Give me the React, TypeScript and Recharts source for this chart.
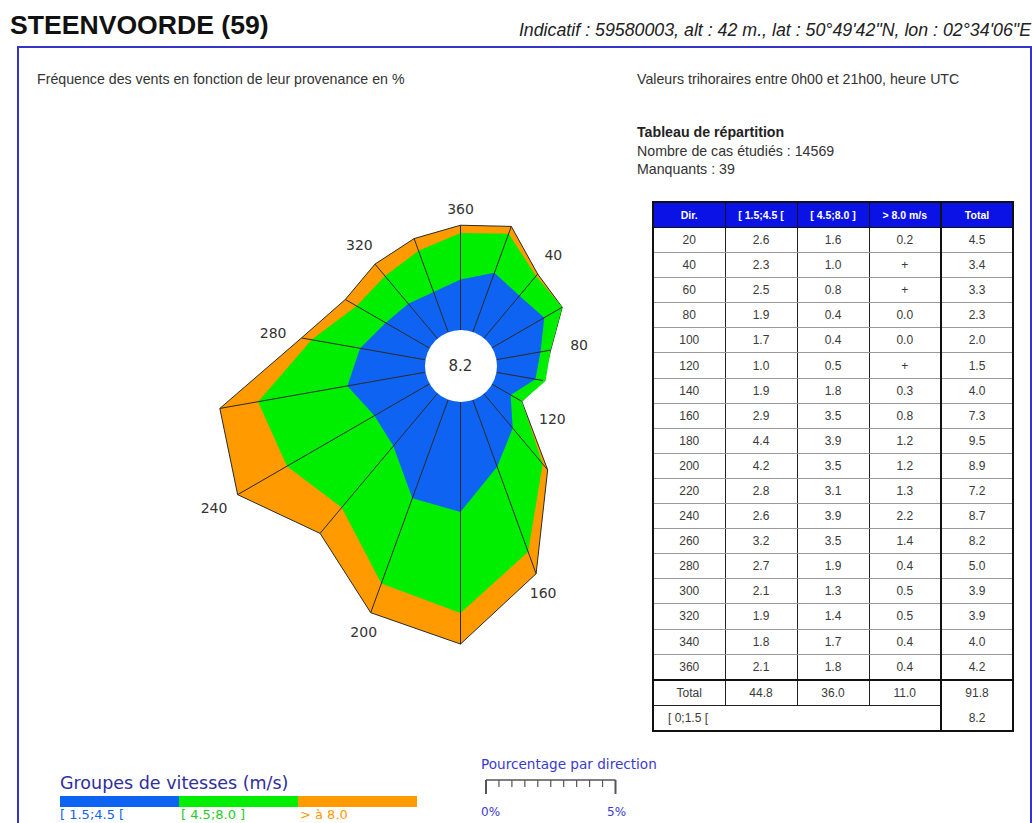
import React from 'react';
import { RadarChart, Radar, PolarAngleAxis, PolarRadiusAxis } from 'recharts';

const directions = [20, 40, 60, 80, 100, 120, 140, 160, 180, 200, 220, 240, 260, 280, 300, 320, 340, 360];
// [ 1.5;4.5 [ m/s
const speedLow = [2.6, 2.3, 2.5, 1.9, 1.7, 1.0, 1.9, 2.9, 4.4, 4.2, 2.8, 2.6, 3.2, 2.7, 2.1, 1.9, 1.8, 2.1];
// [ 4.5;8.0 ] m/s
const speedMid = [1.6, 1.0, 0.8, 0.4, 0.4, 0.5, 1.8, 3.5, 3.9, 3.5, 3.1, 3.9, 3.5, 1.9, 1.3, 1.4, 1.7, 1.8];
// > 8.0 m/s, null = "+" (trace)
const speedHigh: (number | null)[] = [0.2, null, null, 0.0, 0.0, null, 0.3, 0.8, 1.2, 1.2, 1.3, 2.2, 1.4, 0.4, 0.5, 0.5, 0.4, 0.4];
const totals = [4.5, 3.4, 3.3, 2.3, 2.0, 1.5, 4.0, 7.3, 9.5, 8.9, 7.2, 8.7, 8.2, 5.0, 3.9, 3.9, 4.0, 4.2];
const columnTotals = ['44.8', '36.0', '11.0', '91.8'];
const calm = '8.2';
const headers = ['Dir.', '[ 1.5;4.5 [', '[ 4.5;8.0 ]', '> 8.0 m/s', 'Total'];

const BLUE = '#0f63f2';
const GREEN = '#00ee00';
const ORANGE = '#ff9a00';

const CHART_LEFT = 160;
const CHART_TOP = 60;
const CX = 300.5;
const CY = 306;
const INNER = 32;
const OUTER = 291; // 10 % at 25.9 px per %
const HOLE = 36;

const rows = directions.map((dir, i) => ({
  dir,
  low: speedLow[i],
  mid: speedMid[i],
  high: speedHigh[i] ?? 0,
  total: totals[i],
}));

const Spoke = (p: any) => {
  const dx = p.cx - CX;
  const dy = p.cy - CY;
  const r = Math.hypot(dx, dy) || 1;
  const ux = dx / r;
  const uy = dy / r;
  const dir = directions[p.index];
  const off = 16 + 13 * Math.abs(ux) + (dir === 120 ? 8 : 0);
  return (
    <g key={`spoke-${p.index}`}>
      <line x1={CX + ux * HOLE} y1={CY + uy * HOLE} x2={p.cx} y2={p.cy} stroke="#2a2a2a" strokeWidth={1} />
      {dir % 40 === 0 && (
        <text
          x={CX + ux * (r + off)}
          y={CY + uy * (r + off)}
          textAnchor="middle"
          dominantBaseline="central"
          fontFamily="DejaVu Sans, Verdana, sans-serif"
          fontSize={14}
          fill="#333"
        >
          {dir}
        </text>
      )}
    </g>
  );
};

const fmt = (v: number | null) => (v == null ? '+' : v.toFixed(1));

const small: React.CSSProperties = {
  position: 'absolute',
  fontFamily: 'Liberation Sans, Arial, sans-serif',
  fontSize: 14.2,
  color: '#333',
  whiteSpace: 'nowrap',
  lineHeight: '19px',
};

const vLine = '1.5px solid #222';
const hLine = '1px solid #999';

const cell = (extra: React.CSSProperties = {}): React.CSSProperties => ({
  borderLeft: vLine,
  borderRight: vLine,
  borderTop: hLine,
  borderBottom: hLine,
  textAlign: 'center',
  padding: 0,
  height: 24.1,
  fontFamily: 'Liberation Sans, Arial, sans-serif',
  fontSize: 12,
  color: '#3a3a3a',
  ...extra,
});

export default function App() {
  return (
    <div style={{ position: 'absolute', left: 0, top: 0, width: 1032, height: 823, overflow: 'hidden', background: '#fff' }}>
      <div style={{ position: 'absolute', left: 10, top: 10, fontFamily: 'Liberation Sans, Arial, sans-serif', fontWeight: 'bold', fontSize: 26.6, color: '#111', whiteSpace: 'nowrap' }}>
        STEENVOORDE (59)
      </div>
      <div style={{ position: 'absolute', right: 1, top: 20, fontFamily: 'Liberation Sans, Arial, sans-serif', fontStyle: 'italic', fontSize: 17.8, color: '#222', whiteSpace: 'nowrap' }}>
        Indicatif : 59580003, alt : 42 m., lat : 50°49'42"N, lon : 02°34'06"E
      </div>
      <div style={{ position: 'absolute', left: 17, top: 46, width: 1011, height: 820, border: '2px solid #3434c8', borderBottom: 'none' }} />

      <div style={{ ...small, left: 37, top: 70 }}>Fréquence des vents en fonction de leur provenance en %</div>
      <div style={{ ...small, left: 637, top: 70 }}>Valeurs trihoraires entre 0h00 et 21h00, heure UTC</div>
      <div style={{ ...small, left: 637, top: 123, fontWeight: 'bold', color: '#222' }}>Tableau de répartition</div>
      <div style={{ ...small, left: 637, top: 142 }}>Nombre de cas étudiés : 14569</div>
      <div style={{ ...small, left: 637, top: 160 }}>Manquants : 39</div>

      <div style={{ position: 'absolute', left: CHART_LEFT, top: CHART_TOP, width: 600, height: 620 }}>
        <RadarChart
          width={600}
          height={620}
          data={rows}
          cx={CX}
          cy={CY}
          innerRadius={INNER}
          outerRadius={OUTER}
          startAngle={70}
          endAngle={-290}
          margin={{ top: 0, right: 0, bottom: 0, left: 0 }}
        >
          <PolarAngleAxis dataKey="dir" tick={false} axisLine={false} tickLine={false} />
          <PolarRadiusAxis type="number" domain={[0, 10]} allowDataOverflow tick={false} axisLine={false} tickLine={false} />
          <Radar dataKey="total" fill={ORANGE} fillOpacity={1} stroke="#2a2a2a" strokeWidth={1} dot={false} isAnimationActive={false} />
          <Radar dataKey={(d: any) => d.low + d.mid} fill={GREEN} fillOpacity={1} stroke="none" dot={false} isAnimationActive={false} />
          <Radar dataKey="low" fill={BLUE} fillOpacity={1} stroke="none" dot={false} isAnimationActive={false} />
          <Radar dataKey="total" fill="none" stroke="none" dot={(p: any) => <Spoke key={`s${p.index}`} {...p} />} isAnimationActive={false} />
        </RadarChart>
        <div
          style={{
            position: 'absolute',
            left: CX - HOLE,
            top: CY - HOLE,
            width: HOLE * 2,
            height: HOLE * 2,
            borderRadius: '50%',
            background: '#fff',
            display: 'flex',
            alignItems: 'center',
            justifyContent: 'center',
            fontFamily: 'DejaVu Sans, Verdana, sans-serif',
            fontSize: 15,
            color: '#333',
            pointerEvents: 'none',
          }}
        >
          {calm}
        </div>
      </div>

      <table
        style={{
          position: 'absolute',
          left: 652,
          top: 201,
          width: 362,
          borderCollapse: 'collapse',
          tableLayout: 'fixed',
          border: '2px solid #111',
        }}
      >
        <thead>
          <tr>
            {headers.map((h, i) => (
              <th
                key={h}
                style={{
                  background: '#0b12e6',
                  color: '#fff',
                  fontFamily: 'Liberation Sans, Arial, sans-serif',
                  fontSize: 10.5,
                  fontWeight: 'bold',
                  height: 24,
                  padding: 0,
                  border: '1px solid #111',
                  borderLeft: i === 4 ? '2px solid #111' : '1px solid #111',
                  whiteSpace: 'nowrap',
                }}
              >
                {h}
              </th>
            ))}
          </tr>
        </thead>
        <tbody>
          {rows.map((r, i) => (
            <tr key={r.dir}>
              <td style={cell()}>{r.dir}</td>
              <td style={cell()}>{fmt(speedLow[i])}</td>
              <td style={cell()}>{fmt(speedMid[i])}</td>
              <td style={cell()}>{fmt(speedHigh[i])}</td>
              <td style={cell({ borderLeft: '2px solid #111' })}>{fmt(totals[i])}</td>
            </tr>
          ))}
          <tr>
            <td style={cell({ borderTop: '2px solid #111', borderBottom: vLine })}>Total</td>
            {columnTotals.map((v, i) => (
              <td
                key={i}
                style={cell({
                  borderTop: '2px solid #111',
                  borderBottom: i === 3 ? 'none' : vLine,
                  borderLeft: i === 3 ? '2px solid #111' : vLine,
                })}
              >
                {v}
              </td>
            ))}
          </tr>
          <tr>
            <td colSpan={4} style={cell({ textAlign: 'left', paddingLeft: 14, borderTop: vLine })}>
              [ 0;1.5 [
            </td>
            <td style={cell({ borderTop: 'none', borderLeft: '2px solid #111' })}>{calm}</td>
          </tr>
        </tbody>
      </table>

      <div style={{ position: 'absolute', left: 60, top: 772, fontFamily: 'DejaVu Sans, Verdana, sans-serif', fontSize: 17.5, color: '#2e2e9c', whiteSpace: 'nowrap', lineHeight: '22px' }}>
        Groupes de vitesses (m/s)
      </div>
      <div style={{ position: 'absolute', left: 60, top: 796, width: 119, height: 11, background: BLUE }} />
      <div style={{ position: 'absolute', left: 179, top: 796, width: 119, height: 11, background: GREEN }} />
      <div style={{ position: 'absolute', left: 298, top: 796, width: 119, height: 11, background: ORANGE }} />
      <div style={{ position: 'absolute', left: 60, top: 807, fontFamily: 'DejaVu Sans, Verdana, sans-serif', fontSize: 13, color: BLUE, whiteSpace: 'nowrap' }}>[ 1.5;4.5 [</div>
      <div style={{ position: 'absolute', left: 181, top: 807, fontFamily: 'DejaVu Sans, Verdana, sans-serif', fontSize: 13, color: '#22cc22', whiteSpace: 'nowrap' }}>[ 4.5;8.0 ]</div>
      <div style={{ position: 'absolute', left: 300, top: 807, fontFamily: 'DejaVu Sans, Verdana, sans-serif', fontSize: 13, color: ORANGE, whiteSpace: 'nowrap' }}>&gt; à 8.0</div>

      <div style={{ position: 'absolute', left: 481, top: 756, fontFamily: 'DejaVu Sans, Verdana, sans-serif', fontSize: 13.6, color: '#3a3ad0', whiteSpace: 'nowrap' }}>
        Pourcentage par direction
      </div>
      <svg style={{ position: 'absolute', left: 480, top: 776 }} width={140} height={20}>
        <line x1={6} y1={4} x2={135.5} y2={4} stroke="#555" strokeWidth={1.5} />
        {Array.from({ length: 11 }, (_, i) => (
          <line
            key={i}
            x1={6 + i * 12.95}
            y1={4}
            x2={6 + i * 12.95}
            y2={i === 0 || i === 10 ? 18 : 11}
            stroke="#555"
            strokeWidth={i === 0 || i === 10 ? 2 : 1.2}
          />
        ))}
      </svg>
      <div style={{ position: 'absolute', left: 481, top: 805, fontFamily: 'DejaVu Sans, Verdana, sans-serif', fontSize: 12, color: '#3a3ad0' }}>0%</div>
      <div style={{ position: 'absolute', left: 607, top: 805, fontFamily: 'DejaVu Sans, Verdana, sans-serif', fontSize: 12, color: '#3a3ad0' }}>5%</div>
    </div>
  );
}
